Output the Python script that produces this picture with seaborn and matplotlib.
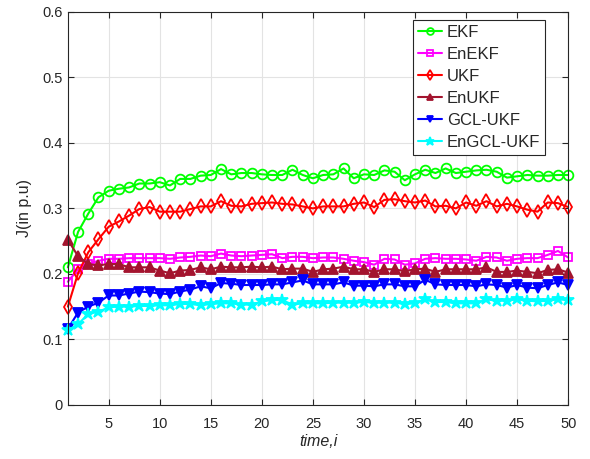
import numpy as np
import pandas as pd
import matplotlib
matplotlib.use("Agg")
import matplotlib.pyplot as plt
import seaborn as sns

time_i = list(range(1, 51))

ekf = [0.210, 0.264, 0.292, 0.317, 0.327, 0.330, 0.332, 0.338, 0.338, 0.340,
       0.335, 0.345, 0.345, 0.350, 0.351, 0.360, 0.352, 0.354, 0.354, 0.352,
       0.351, 0.351, 0.359, 0.351, 0.346, 0.351, 0.352, 0.361, 0.346, 0.352,
       0.351, 0.358, 0.356, 0.343, 0.352, 0.359, 0.354, 0.361, 0.354, 0.356,
       0.358, 0.359, 0.356, 0.347, 0.349, 0.351, 0.350, 0.350, 0.351, 0.351]

enekf = [0.188, 0.207, 0.215, 0.220, 0.223, 0.223, 0.224, 0.224, 0.224, 0.224,
         0.223, 0.225, 0.226, 0.228, 0.227, 0.231, 0.228, 0.227, 0.228, 0.229,
         0.230, 0.224, 0.226, 0.226, 0.224, 0.225, 0.225, 0.223, 0.220, 0.218,
         0.214, 0.223, 0.222, 0.214, 0.216, 0.223, 0.224, 0.223, 0.223, 0.222,
         0.220, 0.226, 0.225, 0.220, 0.223, 0.224, 0.224, 0.229, 0.235, 0.225]

ukf = [0.150, 0.201, 0.233, 0.253, 0.272, 0.280, 0.289, 0.299, 0.302, 0.295,
       0.295, 0.295, 0.299, 0.303, 0.303, 0.311, 0.304, 0.303, 0.307, 0.308,
       0.309, 0.307, 0.306, 0.303, 0.300, 0.303, 0.303, 0.303, 0.307, 0.309,
       0.302, 0.313, 0.314, 0.311, 0.309, 0.312, 0.303, 0.304, 0.300, 0.309,
       0.304, 0.311, 0.303, 0.307, 0.303, 0.298, 0.295, 0.309, 0.308, 0.302]

enukf = [0.252, 0.227, 0.215, 0.213, 0.215, 0.215, 0.210, 0.210, 0.210, 0.205,
         0.201, 0.205, 0.206, 0.210, 0.207, 0.211, 0.210, 0.210, 0.211, 0.210,
         0.211, 0.207, 0.208, 0.208, 0.203, 0.207, 0.208, 0.211, 0.207, 0.207,
         0.203, 0.207, 0.207, 0.204, 0.207, 0.208, 0.203, 0.207, 0.207, 0.207,
         0.207, 0.210, 0.203, 0.203, 0.205, 0.203, 0.201, 0.206, 0.207, 0.202]

gclukf = [0.116, 0.141, 0.150, 0.156, 0.167, 0.167, 0.170, 0.173, 0.172, 0.170,
          0.169, 0.173, 0.176, 0.181, 0.178, 0.186, 0.185, 0.183, 0.183, 0.183,
          0.184, 0.184, 0.187, 0.190, 0.184, 0.184, 0.184, 0.187, 0.182, 0.182,
          0.181, 0.184, 0.184, 0.181, 0.181, 0.191, 0.184, 0.183, 0.183, 0.183,
          0.181, 0.184, 0.183, 0.179, 0.183, 0.179, 0.178, 0.183, 0.187, 0.183]

engclukf = [0.114, 0.123, 0.139, 0.142, 0.149, 0.150, 0.150, 0.151, 0.151, 0.152,
            0.152, 0.154, 0.154, 0.152, 0.154, 0.155, 0.155, 0.153, 0.153, 0.158,
            0.160, 0.160, 0.153, 0.155, 0.155, 0.155, 0.156, 0.156, 0.156, 0.157,
            0.156, 0.156, 0.156, 0.154, 0.155, 0.161, 0.157, 0.157, 0.155, 0.155,
            0.155, 0.161, 0.159, 0.159, 0.161, 0.159, 0.158, 0.159, 0.161, 0.160]

series_names = ["EKF", "EnEKF", "UKF", "EnUKF", "GCL-UKF", "EnGCL-UKF"]
series_values = [ekf, enekf, ukf, enukf, gclukf, engclukf]
x_ticks = [5, 10, 15, 20, 25, 30, 35, 40, 45, 50]
y_ticks = [0, 0.1, 0.2, 0.3, 0.4, 0.5, 0.6]
y_tick_labels = ["0", "0.1", "0.2", "0.3", "0.4", "0.5", "0.6"]

styles = {
    "EKF": dict(color=(0.0, 1.0, 0.0), marker="o", filled=False, ms=7),
    "EnEKF": dict(color=(1.0, 0.0, 1.0), marker="s", filled=False, ms=6),
    "UKF": dict(color=(1.0, 0.0, 0.0), marker="d", filled=False, ms=7),
    "EnUKF": dict(color=(0.64, 0.08, 0.18), marker="^", filled=True, ms=7),
    "GCL-UKF": dict(color=(0.0, 0.0, 1.0), marker="v", filled=True, ms=7),
    "EnGCL-UKF": dict(color=(0.0, 1.0, 1.0), marker="*", filled=True, ms=9),
}

sns.set_theme(style="white")
plt.rcParams['font.family'] = ['Liberation Sans', 'DejaVu Sans']

fig = plt.figure(figsize=(5.9, 4.59), dpi=100)
ax = fig.add_axes([0.115, 0.118, 0.848, 0.856])

for name, vals in zip(series_names, series_values):
    st = styles[name]
    df = pd.DataFrame({"t": time_i, "J": vals})
    sns.lineplot(data=df, x="t", y="J", ax=ax, color=st["color"], marker=st["marker"],
                 markersize=st["ms"], linewidth=1.5,
                 markerfacecolor=(st["color"] if st["filled"] else "none"),
                 markeredgecolor=st["color"], markeredgewidth=1.3, label=name,
                 clip_on=False, zorder=3)

ax.set_xlim(1, 50)
ax.set_ylim(0, 0.6)
ax.set_xticks(x_ticks)
ax.set_yticks(y_ticks)
ax.set_yticklabels(y_tick_labels)
ax.grid(True, color="#e3e3e3", linewidth=0.8)
ax.set_axisbelow(True)
ax.tick_params(direction="in", length=4, width=0.8, labelsize=10.5, colors="#262626",
               top=True, right=True, bottom=True, left=True)
ax.tick_params(axis="x", pad=9)
for sp in ax.spines.values():
    sp.set_color("#262626")
    sp.set_linewidth(0.8)
    sp.set_zorder(4)
ax.set_xlabel("time,i", fontsize=11.5, fontstyle="italic", color="#262626", labelpad=2)
ax.set_ylabel("J(in p.u)", fontsize=11.5, color="#262626", labelpad=8)

leg = ax.legend(loc="upper right", bbox_to_anchor=(0.954, 0.980), fontsize=12,
                frameon=True, fancybox=False, edgecolor="#262626", framealpha=1,
                handlelength=1.4, handletextpad=0.3, borderpad=0.3, labelspacing=0.42,
                borderaxespad=0.0, markerscale=0.7)
leg.get_frame().set_linewidth(0.8)
leg.set_zorder(5)

fig.savefig("out.png", dpi=100)
